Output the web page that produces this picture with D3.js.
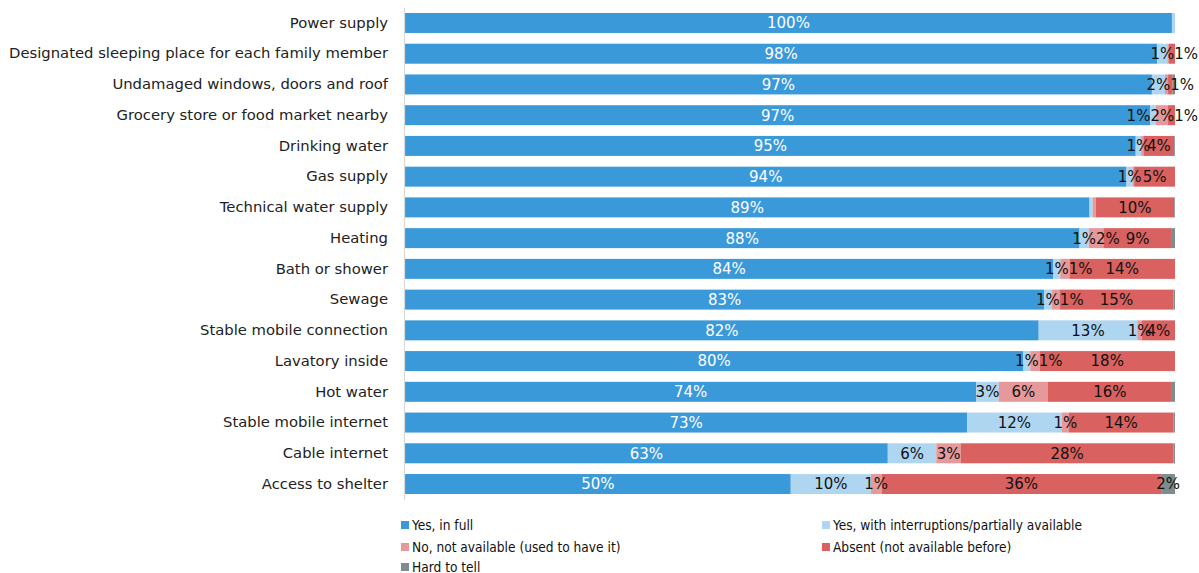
<!DOCTYPE html>
<html>
<head>
<meta charset="utf-8">
<script src="https://cdn.jsdelivr.net/npm/d3@7"></script>
<style>
  html, body { margin: 0; padding: 0; background: #fff; }
  svg { display: block; }
</style>
</head>
<body>
<svg id="chart" width="1199" height="573"></svg>
<script>
// Availability of basic amenities, share of respondents (%)
const categories = [
  "Power supply",
  "Designated sleeping place for each family member",
  "Undamaged windows, doors and roof",
  "Grocery store or food market nearby",
  "Drinking water",
  "Gas supply",
  "Technical water supply",
  "Heating",
  "Bath or shower",
  "Sewage",
  "Stable mobile connection",
  "Lavatory inside",
  "Hot water",
  "Stable mobile internet",
  "Cable internet",
  "Access to shelter"
];

const yesFull     = [99.6, 97.7, 97.0, 96.8, 94.9, 93.7, 88.9, 87.6, 84.2, 83.0, 82.3, 80.3, 74.2, 73.0, 62.7, 50.1];
const yesPartial  = [0.4, 1.3, 1.7, 0.7, 0.7, 0.8, 0.4, 1.2, 0.9, 1.0, 12.8, 0.9, 2.9, 12.3, 6.3, 10.4];
const noUsedTo    = [0.0, 0.2, 0.4, 1.6, 0.3, 0.2, 0.4, 1.9, 1.2, 1.0, 0.6, 1.2, 6.4, 0.9, 3.2, 1.4];
const absent      = [0.0, 0.8, 0.6, 0.9, 4.0, 5.3, 10.2, 8.9, 13.7, 14.8, 4.3, 17.6, 16.1, 13.6, 27.6, 36.3];
const hardToTell  = [0.0, 0.0, 0.3, 0.0, 0.1, 0.0, 0.1, 0.4, 0.0, 0.2, 0.0, 0.0, 0.4, 0.2, 0.2, 1.8];

const seriesNames = [
  "Yes, in full",
  "Yes, with interruptions/partially available",
  "No, not available (used to have it)",
  "Absent (not available before)",
  "Hard to tell"
];
const seriesKeys = ["yesFull", "yesPartial", "noUsedTo", "absent", "hardToTell"];
const seriesColors = ["#3a99d9", "#aed6f1", "#e6999b", "#d9615f", "#7f8c8d"];

const rows = categories.map((c, i) => ({
  category: c,
  yesFull: yesFull[i],
  yesPartial: yesPartial[i],
  noUsedTo: noUsedTo[i],
  absent: absent[i],
  hardToTell: hardToTell[i]
}));

const svg = d3.select("#chart");
const labelFont = "'DejaVu Sans', Verdana, sans-serif";

const x = d3.scaleLinear().domain([0, 100]).range([405, 1175]);
const y = d3.scaleBand()
  .domain(categories)
  .range([7.6, 499.4])
  .paddingInner(0.35)
  .paddingOuter(0.175);

const stacked = d3.stack().keys(seriesKeys)(rows);

// bars
const layers = svg.append("g").selectAll("g")
  .data(stacked)
  .join("g")
  .attr("fill", (d, i) => seriesColors[i]);

layers.selectAll("rect")
  .data(d => d)
  .join("rect")
  .attr("x", d => x(d[0]))
  .attr("y", d => y(d.data.category))
  .attr("width", d => Math.max(0, x(d[1]) - x(d[0])))
  .attr("height", y.bandwidth());

// category axis
const gy = svg.append("g")
  .attr("transform", "translate(404,0)")
  .call(d3.axisLeft(y).tickSize(0).tickPadding(16));
gy.select(".domain").attr("stroke", "#d9d9d9").attr("stroke-width", 1.2);
gy.selectAll("text")
  .attr("font-family", labelFont)
  .attr("font-size", 14.8)
  .attr("fill", "#222");

// value labels: one per visible segment, centred, nudged apart when they crowd
const labelItems = [];
stacked.forEach((layer, li) => {
  layer.forEach((d, ri) => {
    const v = d[1] - d[0];
    if (Math.round(v) >= 1) {
      labelItems.push({
        row: ri, layer: li,
        cx: (x(d[0]) + x(d[1])) / 2,
        cy: y(d.data.category) + y.bandwidth() / 2,
        text: Math.round(v) + "%"
      });
    }
  });
});

const labelG = svg.append("g");
const labelSel = labelG.selectAll("text")
  .data(labelItems)
  .join("text")
  .attr("y", d => d.cy)
  .attr("dy", "0.36em")
  .attr("text-anchor", "middle")
  .attr("font-family", labelFont)
  .attr("font-size", 15)
  .attr("fill", d => d.layer === 0 ? "#fff" : "#111")
  .text(d => d.text);

labelSel.each(function(d) { d.w = this.getComputedTextLength(); });

const rightLimit = 1198;
d3.groups(labelItems, d => d.row).forEach(([, items]) => {
  items.sort((a, b) => a.layer - b.layer);
  for (let i = 1; i < items.length; i++) {
    const prev = items[i - 1], cur = items[i];
    const need = (prev.w + cur.w) / 2;
    if (cur.cx - prev.cx < need * 0.7) cur.cx = prev.cx + need;
  }
  for (let i = items.length - 1; i >= 0; i--) {
    const cur = items[i];
    const maxCx = i === items.length - 1
      ? rightLimit - cur.w / 2
      : items[i + 1].cx - (cur.w + items[i + 1].w) / 2;
    if (cur.cx > maxCx && (i === items.length - 1 || items[i + 1].cx - cur.cx < (cur.w + items[i + 1].w) / 2 * 0.7 || cur.cx + cur.w / 2 > rightLimit)) {
      cur.cx = Math.min(cur.cx, maxCx);
    }
  }
});

labelSel.attr("x", d => d.cx);

// legend
const legendPos = [
  [401, 525], [822, 525],
  [401, 547], [822, 547],
  [401, 567]
];
const legend = svg.append("g").selectAll("g")
  .data(seriesNames)
  .join("g")
  .attr("transform", (d, i) => `translate(${legendPos[i][0]},${legendPos[i][1]})`);

legend.append("rect")
  .attr("x", 0).attr("y", -4)
  .attr("width", 8).attr("height", 8)
  .attr("fill", (d, i) => seriesColors[i]);

legend.append("text")
  .attr("x", 11)
  .attr("dy", "0.36em")
  .attr("font-family", "'DejaVu Sans Condensed', 'DejaVu Sans', sans-serif")
  .attr("font-stretch", "condensed")
  .attr("font-size", 13.6)
  .attr("fill", "#111")
  .text(d => d);
</script>
</body>
</html>
